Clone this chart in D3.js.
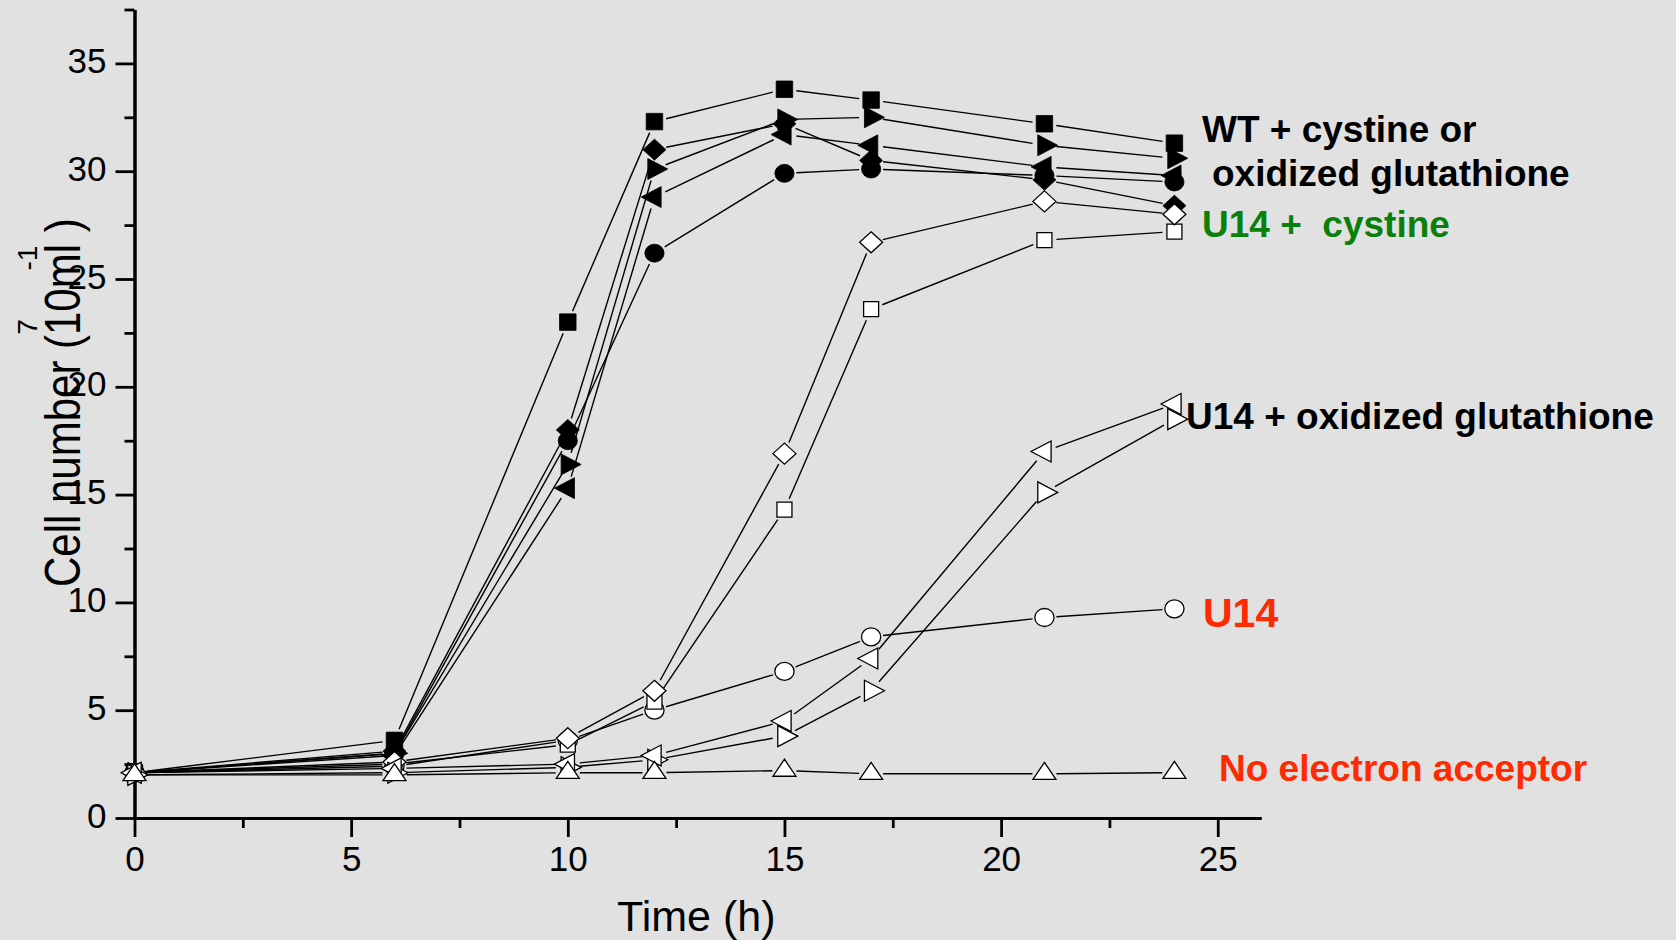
<!DOCTYPE html>
<html>
<head>
<meta charset="utf-8">
<script src="https://cdn.jsdelivr.net/npm/d3@7"></script>
<style>
  html, body { margin: 0; padding: 0; background: #e1e1e1; }
  svg { display: block; }
  text { font-family: "Liberation Sans", Arial, Helvetica, sans-serif; }
</style>
</head>
<body>
<svg id="chart" width="1676" height="940"></svg>
<script>
// Sampling times (h)
const time = [0, 6, 10, 12, 15, 17, 21, 24];

// Cell number (10^7 ml^-1), wild type with cystine or oxidized glutathione
const wtSquare  = [2.1, 3.6, 23.0, 32.3, 33.8, 33.3, 32.2, 31.3];
const wtRight   = [2.1, 3.0, 16.4, 30.1, 32.4, 32.5, 31.2, 30.6];
const wtLeft    = [2.1, 2.9, 15.3, 28.8, 31.7, 31.2, 30.2, 29.8];
const wtDiamond = [2.1, 3.1, 18.0, 31.0, 32.2, 30.5, 29.6, 28.4];
const wtCircle  = [2.1, 3.0, 17.5, 26.2, 29.9, 30.1, 29.8, 29.5];

// U14 + cystine
const cysDiamond = [2.1, 2.6, 3.7, 5.9, 16.9, 26.7, 28.6, 28.0];
const cysSquare  = [2.1, 2.5, 3.4, 5.4, 14.3, 23.6, 26.8, 27.2];

// U14 + oxidized glutathione
const gsLeft  = [2.1, 2.3, 2.5, 2.9, 4.5, 7.4, 17.0, 19.2];
const gsRight = [2.0, 2.1, 2.35, 2.7, 3.8, 5.9, 15.1, 18.5];

// U14 alone, and no electron acceptor
const u14Circle  = [2.1, 2.4, 3.6, 5.0, 6.8, 8.4, 9.3, 9.7];
const noAcceptor = [2.0, 2.0, 2.1, 2.1, 2.2, 2.05, 2.05, 2.1];

// Axis ticks
const xTicks = [0, 5, 10, 15, 20, 25];
const xMinor = [2.5, 7.5, 12.5, 17.5, 22.5];
const yTicks = [0, 5, 10, 15, 20, 25, 30, 35];
const yMinor = [2.5, 7.5, 12.5, 17.5, 22.5, 27.5, 32.5, 37.5];

// Curve labels
const labels = [
  { text: "WT + cystine or",            color: "#000000" },
  { text: "oxidized glutathione",       color: "#000000" },
  { text: "U14 +\u00a0 cystine",        color: "#0a7f0a" },
  { text: "U14 + oxidized glutathione", color: "#000000" },
  { text: "U14",                        color: "#ff2a00" },
  { text: "No electron acceptor",       color: "#ff2a00" }
];

// Drawing order: later series sit on top
const series = [
  { values: wtSquare,   shape: "square",   filled: true },
  { values: wtRight,    shape: "triRight", filled: true },
  { values: wtLeft,     shape: "triLeft",  filled: true },
  { values: wtCircle,   shape: "circle",   filled: true },
  { values: wtDiamond,  shape: "diamond",  filled: true },
  { values: u14Circle,  shape: "circle",   filled: false },
  { values: cysSquare,  shape: "square",   filled: false },
  { values: cysDiamond, shape: "diamond",  filled: false },
  { values: gsRight,    shape: "triRight", filled: false },
  { values: gsLeft,     shape: "triLeft",  filled: false },
  { values: noAcceptor, shape: "triUp",    filled: false }
];

const svg = d3.select("#chart");

const x = d3.scaleLinear().domain([0, 26]).range([134.5, 134.5 + 26 * 43.33]);
const y = d3.scaleLinear().domain([0, 37.5]).range([818, 818 - 37.5 * 21.56]);

// Symbol outlines, centred on the data point (triangles on their centroid)
function symbolPath(shape, filled) {
  switch (shape) {
    case "square": {
      const s = filled ? 16.5 : 15;
      return `M${-s/2},${-s/2}h${s}v${s}h${-s}Z`;
    }
    case "circle": {
      const rx = 9.6, ry = 9.0;
      return `M${-rx},0A${rx},${ry} 0 1,0 ${rx},0A${rx},${ry} 0 1,0 ${-rx},0Z`;
    }
    case "diamond": {
      const w = 23, h = 21;
      return `M0,${-h/2}L${w/2},0L0,${h/2}L${-w/2},0Z`;
    }
    case "triUp": {
      const b = 23, h = 17;
      return `M0,${-2*h/3}L${b/2},${h/3}L${-b/2},${h/3}Z`;
    }
    case "triRight": {
      const b = 21, h = 20;
      return `M${2*h/3},0L${-h/3},${b/2}L${-h/3},${-b/2}Z`;
    }
    case "triLeft": {
      const b = 21, h = 20;
      return `M${-2*h/3},0L${h/3},${b/2}L${h/3},${-b/2}Z`;
    }
  }
}

// Axes
const axisColor = "#000";
function styleAxis(g) {
  g.select(".domain").attr("stroke", axisColor).attr("stroke-width", 3);
  g.selectAll(".tick line").attr("stroke", axisColor).attr("stroke-width", 2.8);
  g.selectAll(".tick text").attr("fill", "#000").attr("font-size", 35);
}

svg.append("g")
  .attr("transform", `translate(0,${y(0)})`)
  .call(d3.axisBottom(x).tickValues(xMinor).tickSize(10).tickSizeOuter(0).tickFormat(""))
  .call(styleAxis);
svg.append("g")
  .attr("transform", `translate(${x(0)},0)`)
  .call(d3.axisLeft(y).tickValues(yMinor).tickSize(10).tickSizeOuter(0).tickFormat(""))
  .call(styleAxis);

const gx = svg.append("g")
  .attr("transform", `translate(0,${y(0)})`)
  .call(d3.axisBottom(x).tickValues(xTicks).tickSize(19).tickPadding(9).tickSizeOuter(0).tickFormat(d3.format("d")))
  .call(styleAxis);
gx.selectAll(".tick text").attr("dy", "0.71em");

const gy = svg.append("g")
  .attr("transform", `translate(${x(0)},0)`)
  .call(d3.axisLeft(y).tickValues(yTicks).tickSize(19).tickPadding(9).tickSizeOuter(0).tickFormat(d3.format("d")))
  .call(styleAxis);
gy.selectAll(".tick text").attr("dy", "0.26em");

// Connecting lines, stopped short of each symbol
const gap = 12;
const lineLayer = svg.append("g");
series.forEach(s => {
  const pts = time.map((t, i) => [x(t), y(s.values[i])]);
  for (let i = 0; i < pts.length - 1; i++) {
    const [x0, y0] = pts[i], [x1, y1] = pts[i + 1];
    const dx = x1 - x0, dy = y1 - y0, len = Math.hypot(dx, dy);
    if (len <= 2 * gap) continue;
    const ux = dx / len, uy = dy / len;
    lineLayer.append("line")
      .attr("x1", x0 + ux * gap).attr("y1", y0 + uy * gap)
      .attr("x2", x1 - ux * gap).attr("y2", y1 - uy * gap)
      .attr("stroke", "#000").attr("stroke-width", 1.4);
  }
});

// Symbols
const symLayer = svg.append("g");
series.forEach(s => {
  symLayer.append("g")
    .selectAll("path")
    .data(time.map((t, i) => ({ t, v: s.values[i] })))
    .join("path")
    .attr("transform", d => `translate(${x(d.t)},${y(d.v)})`)
    .attr("d", symbolPath(s.shape, s.filled))
    .attr("fill", s.filled ? "#000" : "#fff")
    .attr("stroke", "#000")
    .attr("stroke-width", s.filled ? 0.8 : 1.3);
});

// Axis titles
svg.append("text")
  .attr("x", 617).attr("y", 931)
  .attr("font-size", 43)
  .attr("fill", "#000")
  .text("Time (h)");

const yTitle = svg.append("g").attr("transform", "translate(80,587) rotate(-90)");
yTitle.append("text")
  .attr("x", 0).attr("y", 0)
  .attr("transform", "scale(1,1.18)")
  .attr("font-size", 42)
  .attr("fill", "#000")
  .attr("xml:space", "preserve")
  .text("Cell number (10ml )");
yTitle.append("text")
  .attr("x", 260).attr("y", -43)
  .attr("text-anchor", "middle")
  .attr("font-size", 28)
  .attr("fill", "#000")
  .text("7");
yTitle.append("text")
  .attr("x", 329).attr("y", -43)
  .attr("text-anchor", "middle")
  .attr("font-size", 28)
  .attr("fill", "#000")
  .text("-1");

// Curve labels on the right
const labelPos = [
  { x: 1202, y: 142, size: 37 },
  { x: 1212, y: 186, size: 37 },
  { x: 1202, y: 237, size: 37 },
  { x: 1186, y: 429, size: 37 },
  { x: 1203, y: 627, size: 41 },
  { x: 1219, y: 781, size: 37 }
];
svg.append("g")
  .selectAll("text")
  .data(labels)
  .join("text")
  .attr("x", (d, i) => labelPos[i].x)
  .attr("y", (d, i) => labelPos[i].y)
  .attr("font-size", (d, i) => labelPos[i].size)
  .attr("font-weight", "bold")
  .attr("fill", d => d.color)
  .text(d => d.text);
</script>
</body>
</html>
